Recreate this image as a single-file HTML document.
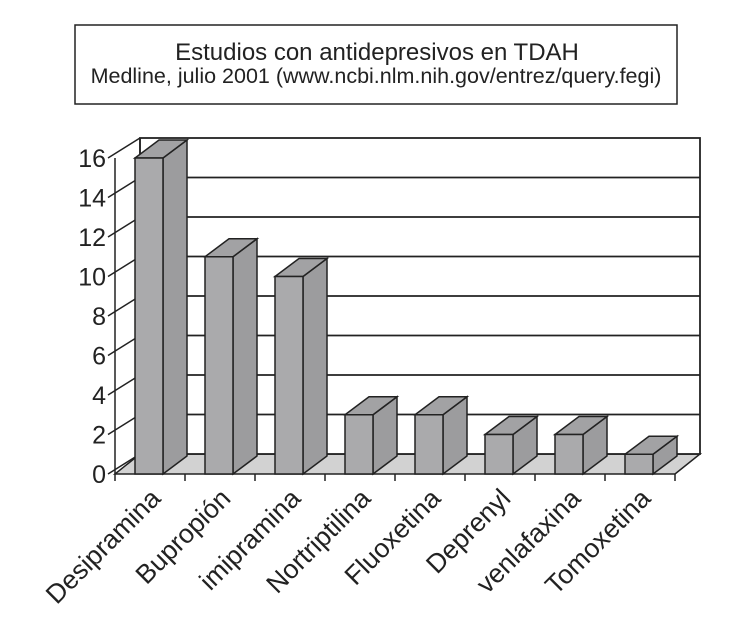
<!DOCTYPE html>
<html><head><meta charset="utf-8"><style>
body{margin:0;background:#fff;}
svg{display:block;font-family:"Liberation Sans",sans-serif;}
</style></head><body>
<svg id="chart" width="730" height="638">
<rect x="75" y="25" width="602" height="79" fill="#fff" stroke="#222" stroke-width="1.5"/>
<text x="377" y="60" text-anchor="middle" font-size="24" fill="#222">Estudios con antidepresivos en TDAH</text>
<text x="376" y="83" text-anchor="middle" font-size="21.5" fill="#222">Medline, julio 2001 (www.ncbi.nlm.nih.gov/entrez/query.fegi)</text>
<g id="plot"></g>
</svg>
<script>
const categories=["Desipramina","Bupropión","imipramina","Nortriptilina","Fluoxetina","Deprenyl","venlafaxina","Tomoxetina"];
const values=[16,11,10,3,3,2,2,1];
const ticks=[0,2,4,6,8,10,12,14,16];
const NS="http://www.w3.org/2000/svg";
const g=document.getElementById('plot');
const x0=115,y0=474,step=70,dx=25,dy=-20,maxV=16,pxPerU=19.75,barOff=20,barW=28;
const y=v=>y0-v*pxPerU;
function el(t,a){const e=document.createElementNS(NS,t);for(const k in a)e.setAttribute(k,a[k]);g.appendChild(e);return e;}
const xEnd=x0+step*categories.length;
let e=el('polygon',{points:`${x0},${y0} ${xEnd},${y0} ${xEnd+dx},${y0+dy} ${x0+dx},${y0+dy}`,fill:'#d2d2d2',stroke:'#222','stroke-width':1.5});


e=el('rect',{x:x0+dx,y:y(maxV)+dy,width:xEnd-x0,height:maxV*pxPerU,fill:'#fff',stroke:'#222','stroke-width':1.8});


ticks.forEach(t=>{
  if(t>0&&t<maxV){e=el('line',{x1:x0+dx,x2:xEnd+dx,y1:y(t)+dy,y2:y(t)+dy,stroke:'#222','stroke-width':1.8});
  
  }
  e=el('line',{x1:x0-7,x2:x0+dx,y1:y(t),y2:y(t)+dy,stroke:'#222','stroke-width':1.5});
  
  
  e=el('text',{x:x0-9,y:y(t)+9,'text-anchor':'end','font-size':25,fill:'#222'});
  e.textContent=t;
  
  
});
e=el('line',{x1:x0,x2:x0,y1:y0,y2:y(maxV),stroke:'#222','stroke-width':1.5});


e=el('line',{x1:x0+dx,x2:x0+dx,y1:y0+dy,y2:y(maxV)+dy,stroke:'#222','stroke-width':1.5});


for(let i=0;i<=categories.length;i++){
  e=el('line',{x1:x0+step*i,x2:x0+step*i,y1:y0,y2:y0+7,stroke:'#222','stroke-width':1.5});
  
  
}
const bdx=24,bdy=-18;
values.forEach((v,i)=>{
  const bx=x0+step*i+barOff,top=y(v);
  const pts=[[bx+barW,y0],[bx+barW+bdx,y0+bdy],[bx+barW+bdx,top+bdy],[bx+barW,top]];
  e=el('polygon',{points:pts.map(p=>p.join(',')).join(' '),fill:'#9c9c9e',stroke:'#222','stroke-width':1.5});
  
  
  e=el('polygon',{points:`${bx},${top} ${bx+barW},${top} ${bx+barW+bdx},${top+bdy} ${bx+bdx},${top+bdy}`,fill:'#a2a2a4',stroke:'#222','stroke-width':1.5});
  
  
  e=el('rect',{x:bx,y:top,width:barW,height:y0-top,fill:'#aaaaac',stroke:'#222','stroke-width':1.5});
  
  
  const lx=x0+step*i+step/2+12,ly=y0+26;
  e=el('text',{x:lx,y:ly,'text-anchor':'end','font-size':26.5,fill:'#222',transform:`rotate(-45 ${lx} ${ly})`});
  e.textContent=categories[i];
  
  
});
</script>
</body></html>
